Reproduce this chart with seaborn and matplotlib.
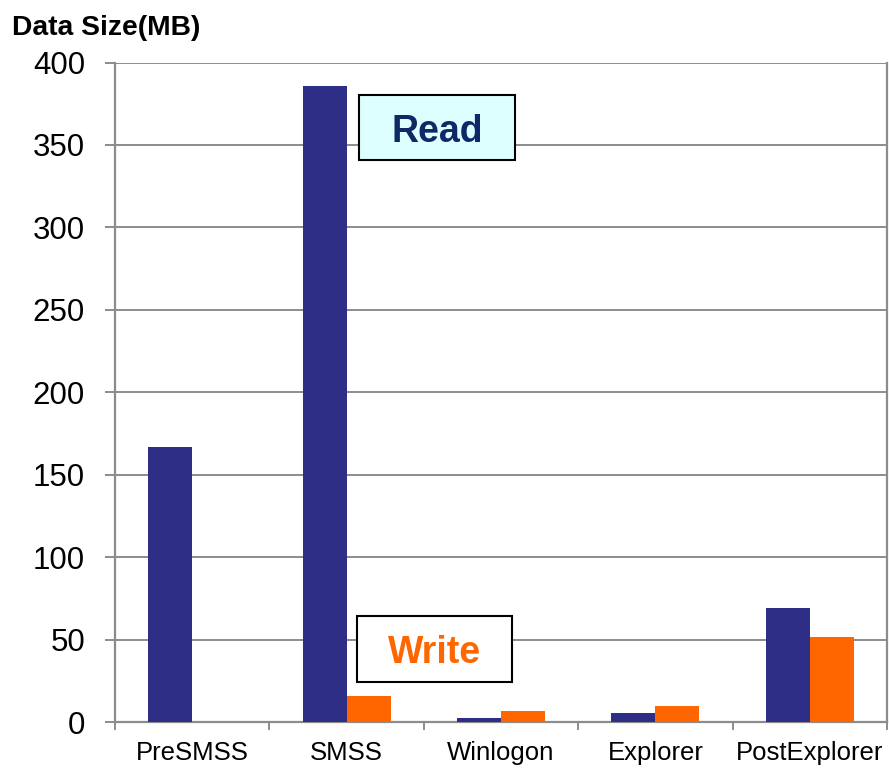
import matplotlib
matplotlib.use("Agg")
import matplotlib.pyplot as plt
from matplotlib.patches import Rectangle
import seaborn as sns
import pandas as pd
import numpy as np

# Boot phases and the disk I/O volume (MB) measured in each
phases = ["PreSMSS", "SMSS", "Winlogon", "Explorer", "PostExplorer"]
read_mb = [167, 386, 2.2, 5.5, 69]
write_mb = [0, 15.8, 6.7, 9.7, 51.4]
y_ticks = [0, 50, 100, 150, 200, 250, 300, 350, 400]

df = pd.DataFrame({
    "phase": phases * 2,
    "kind": ["Read"] * len(phases) + ["Write"] * len(phases),
    "mb": read_mb + write_mb,
})

sns.set_theme(style="white")
plt.rcParams["font.family"] = ["Liberation Sans", "DejaVu Sans"]

fig = plt.figure(figsize=(8.89, 7.69), dpi=100)
ax = fig.add_axes([115 / 889, 47 / 769, (887 - 115) / 889, (722 - 62.5) / 769])

grid_c = "#8c8c8c"
sns.barplot(data=df, x="phase", y="mb", hue="kind", order=phases,
            palette={"Read": "#2e2e86", "Write": "#ff6600"}, saturation=1,
            width=0.57, dodge=True, gap=0, linewidth=0, ax=ax, legend=False,
            zorder=3)

ax.set_xlim(-0.5, len(phases) - 0.5)
ax.set_ylim(0, 400)
ax.set_yticks(y_ticks)
ax.set_yticklabels([str(v) for v in y_ticks], fontsize=22.5)
ax.yaxis.grid(True, color=grid_c, linewidth=1.4, zorder=0)
ax.set_axisbelow(True)

# category labels centred, tick marks on the category boundaries
ax.set_xticks(range(len(phases)))
ax.set_xticklabels(phases, fontsize=18.5)
ax.set_xticks(np.arange(-0.5, len(phases)), minor=True)
ax.tick_params(axis="x", which="major", length=0, pad=14, colors="black")
ax.tick_params(axis="x", which="minor", length=5.5, width=1.4, color=grid_c,
               direction="out", bottom=True)
ax.tick_params(axis="y", which="major", length=7.2, width=1.4, color=grid_c,
               direction="out", left=True, pad=14.4, labelcolor="black")
ax.set_xlabel("")
ax.set_ylabel("")

for side in ["left", "bottom", "right"]:
    ax.spines[side].set_visible(True)
    ax.spines[side].set_color(grid_c)
    ax.spines[side].set_linewidth(1.6)
ax.spines["top"].set_visible(False)

fig.text(12 / 889, 1 - 28 / 769, "Data Size(MB)", fontsize=20.3,
         fontweight="bold", ha="left", va="center", color="black")

# annotation boxes naming the two series
def label_box(x0, x1, y0, y1, text, face, color):
    ax.add_patch(Rectangle((x0, y0), x1 - x0, y1 - y0, facecolor=face,
                           edgecolor="black", linewidth=1.5, zorder=5,
                           clip_on=False))
    ax.annotate(text, ((x0 + x1) / 2, (y0 + y1) / 2), xytext=(0, -3),
                textcoords="offset points", fontsize=27, fontweight="bold",
                color=color, ha="center", va="center", zorder=6)

label_box(1.08, 2.09, 341, 380, "Read", "#ddffff", "#0d2a66")
label_box(1.065, 2.07, 24.5, 64.5, "Write", "white", "#ff6600")

fig.savefig("out.png", dpi=100)
